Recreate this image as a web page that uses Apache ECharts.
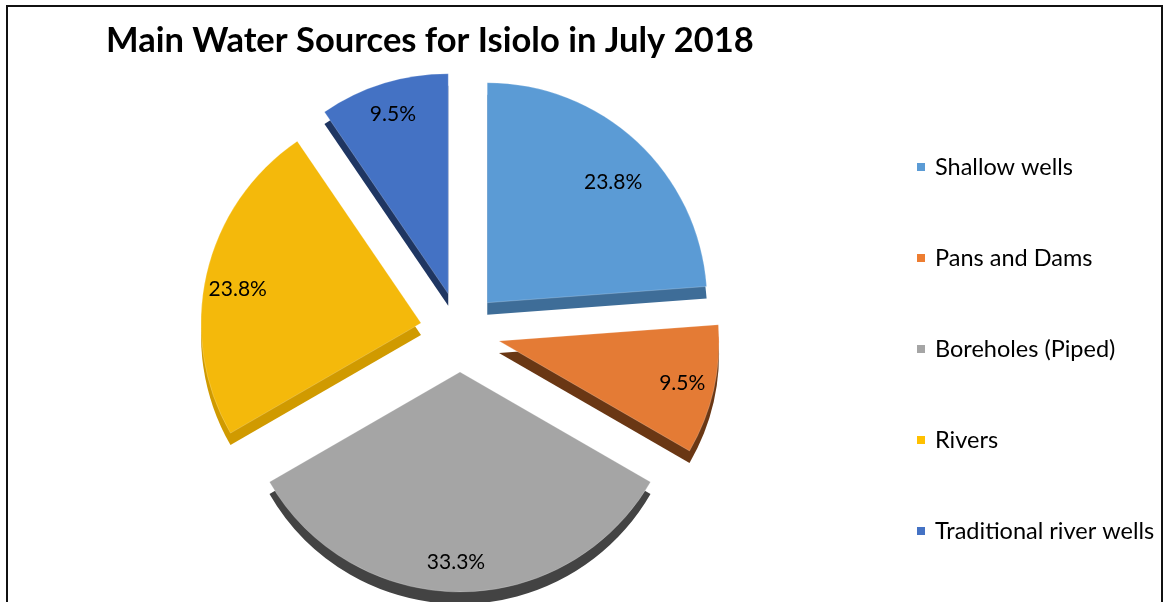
<!DOCTYPE html>
<html>
<head>
<meta charset="utf-8">
<script src="https://cdn.jsdelivr.net/npm/echarts@6/dist/echarts.min.js"></script>
<style>
  html, body { margin: 0; padding: 0; background: #fff; }
  #chart { width: 1165px; height: 602px; }
</style>
</head>
<body>
<div id="chart"></div>
<script>
const titleText = 'Main Water Sources for Isiolo in July 2018';
const categories = ['Shallow wells', 'Pans and Dams', 'Boreholes (Piped)', 'Rivers', 'Traditional river wells'];
const shares = [23.8, 9.5, 33.3, 23.8, 9.5];
const topColors = ['#5B9BD5', '#E47B35', '#A5A5A5', '#F4B90B', '#4472C4'];
const sideColors = ['#3E6D98', '#6A3714', '#434343', '#D09A00', '#1F3662'];
const legendColors = ['#5B9BD5', '#ED7D31', '#A5A5A5', '#FFC000', '#4472C4'];

const chart = echarts.init(document.getElementById('chart'), null, { renderer: 'canvas' });

const CX = 460, CY = 332, R = 220, DEPTH = 12, EXPLODE = 40;
const FONT = 'Lato, "Open Sans", sans-serif';

function items(colors) {
  return categories.map((c, i) => ({
    name: c,
    value: shares[i],
    selected: true,
    itemStyle: { color: colors[i] }
  }));
}

const option = {
  animation: false,
  title: {
    text: titleText,
    left: 106,
    top: 23,
    padding: 0,
    textStyle: { fontFamily: FONT, fontWeight: 'bold', fontSize: 34.5, color: '#000' }
  },
  legend: {
    orient: 'vertical',
    left: 917,
    top: 155,
    padding: 0,
    itemWidth: 8,
    itemHeight: 8,
    itemGap: 67,
    icon: 'rect',
    selectedMode: false,
    data: categories.map((c, i) => ({ name: c, itemStyle: { color: legendColors[i] } })),
    textStyle: { fontFamily: FONT, fontSize: 23.5, color: '#000', lineHeight: 24, padding: [0, 0, 0, 5] }
  },
  graphic: [{
    type: 'rect',
    shape: { x: 7, y: 6, width: 1155, height: 640 },
    style: { fill: 'none', stroke: '#111', lineWidth: 2 },
    z: 100
  }],
  series: [
    {
      name: 'depth',
      type: 'pie',
      center: [CX, CY + DEPTH],
      radius: [0, R],
      startAngle: 90,
      clockwise: true,
      selectedMode: 'multiple',
      selectedOffset: EXPLODE,
      silent: true,
      legendHoverLink: false,
      label: { show: false },
      labelLine: { show: false },
      data: items(sideColors),
      z: 1
    },
    {
      name: 'top',
      type: 'pie',
      center: [CX, CY],
      radius: [0, R],
      startAngle: 90,
      clockwise: true,
      selectedMode: 'multiple',
      selectedOffset: EXPLODE,
      silent: true,
      itemStyle: { borderColor: 'rgba(255,255,255,0.35)', borderWidth: 0.6 },
      label: { show: false },
      labelLine: { show: false },
      data: items(topColors),
      z: 2
    },
    {
      name: 'labels',
      type: 'pie',
      center: [CX, CY],
      radius: [150, R],
      startAngle: 90,
      clockwise: true,
      selectedMode: 'multiple',
      selectedOffset: EXPLODE,
      silent: true,
      legendHoverLink: false,
      itemStyle: { color: 'rgba(0,0,0,0)' },
      label: {
        show: true,
        position: 'inside',
        formatter: p => p.value.toFixed(1) + '%',
        fontFamily: FONT,
        fontSize: 21,
        color: '#000'
      },
      labelLayout: p => {
        if (p.dataIndex === 0) return { dx: -2, dy: 17 };
        if (p.dataIndex === 3) return { dx: 0, dy: 8 };
        if (p.dataIndex === 2) return { dx: -4, dy: 2 };
        return {};
      },
      labelLine: { show: false },
      data: categories.map((c, i) => ({ name: c, value: shares[i], selected: true })),
      z: 3
    }
  ]
};
chart.setOption(option);
</script>
</body>
</html>
